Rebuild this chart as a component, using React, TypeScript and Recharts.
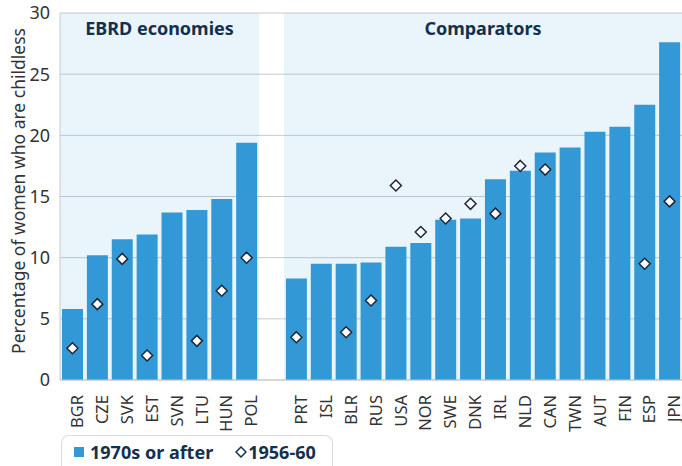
import { ComposedChart, Bar, Line, XAxis, YAxis, CartesianGrid, ReferenceArea, Legend } from 'recharts';

// Childless women by cohort, EBRD economies vs comparators
const ebrdCountries = ['BGR', 'CZE', 'SVK', 'EST', 'SVN', 'LTU', 'HUN', 'POL'];
const ebrdRecent = [5.8, 10.2, 11.5, 11.9, 13.7, 13.9, 14.8, 19.4];
const ebrdOlder: (number | null)[] = [2.6, 6.2, 9.9, 2.0, null, 3.2, 7.3, 10.0];

const compCountries = ['PRT', 'ISL', 'BLR', 'RUS', 'USA', 'NOR', 'SWE', 'DNK', 'IRL', 'NLD', 'CAN', 'TWN', 'AUT', 'FIN', 'ESP', 'JPN'];
const compRecent = [8.3, 9.5, 9.5, 9.6, 10.9, 11.2, 13.1, 13.2, 16.4, 17.1, 18.6, 19.0, 20.3, 20.7, 22.5, 27.6];
const compOlder: (number | null)[] = [3.5, null, 3.9, 6.5, 15.9, 12.1, 13.2, 14.4, 13.6, 17.5, 17.2, null, null, null, 9.5, 14.6];

const yTicks = [0, 5, 10, 15, 20, 25, 30];

const GAP = ' ';
const chartData = [
  ...ebrdCountries.map((c, i) => ({ name: c, recent: ebrdRecent[i], older: ebrdOlder[i] })),
  { name: GAP, recent: null, older: null },
  ...compCountries.map((c, i) => ({ name: c, recent: compRecent[i], older: compOlder[i] })),
];

const BLUE = '#3399d6';
const NAVY = '#13304d';
const FONT = '"Noto Sans", "Open Sans", sans-serif';

const Diamond = (props: any) => {
  const { cx, cy, value, index } = props;
  if (value == null || cx == null || cy == null) return <g key={index} />;
  const r = 5.5;
  return (
    <polygon
      key={index}
      points={`${cx},${cy - r} ${cx + r},${cy} ${cx},${cy + r} ${cx - r},${cy}`}
      fill="#fff"
      stroke="#1b2838"
      strokeWidth={1.5}
    />
  );
};

const LegendBox = () => (
  <div style={{
    display: 'flex', alignItems: 'center', border: '1px solid #dcdcdc', borderBottom: 'none',
    borderRadius: '8px 8px 0 0', padding: '4px 16px 10px 12px', fontFamily: FONT,
    fontWeight: 700, fontSize: 18, color: NAVY, background: '#fff'
  }}>
    <span style={{ width: 10, height: 10, background: BLUE, display: 'inline-block', marginRight: 6 }} />
    <span>1970s or after</span>
    <svg width={12} height={12} style={{ marginLeft: 22, marginRight: 1 }}>
      <polygon points="6,1 11,6 6,11 1,6" fill="#fff" stroke={NAVY} strokeWidth={1.5} />
    </svg>
    <span>1956-60</span>
  </div>
);

export default function App() {
  return (
    <div style={{ position: 'absolute', left: 0, top: 0, width: 682, height: 466, background: '#fff' }}>
      <ComposedChart width={682} height={466} data={chartData} barCategoryGap={2}
        margin={{ top: 13, right: 0, left: 0, bottom: 36 }}>
        <ReferenceArea x1="BGR" x2="POL" y1={0} y2={30} fill={BLUE} fillOpacity={0.1} stroke="none"
          label={{ value: 'EBRD economies', position: 'insideTop', offset: 9, fill: NAVY, fontSize: 18, fontWeight: 700, fontFamily: FONT }} />
        <ReferenceArea x1="PRT" x2="JPN" y1={0} y2={30} fill={BLUE} fillOpacity={0.1} stroke="none"
          label={{ value: 'Comparators', position: 'insideTop', offset: 9, fill: NAVY, fontSize: 18, fontWeight: 700, fontFamily: FONT }} />
        <CartesianGrid vertical={false} stroke="#c6cacd" />
        <XAxis dataKey="name" interval={0} height={50} angle={-90} textAnchor="end" tickLine={false}
          axisLine={{ stroke: '#c6cacd' }} tickMargin={9} dx={-1}
          tick={{ fontSize: 16.5, fill: '#333', fontFamily: FONT }} />
        <YAxis domain={[0, 30]} ticks={yTicks} width={60} tickLine={false} axisLine={{ stroke: '#c6cacd' }}
          tickMargin={4} tick={{ fontSize: 18, fill: '#333', fontFamily: FONT }}
          label={{
            content: () => (
              <text x={20} y={191} transform="rotate(-90 20 191)" textAnchor="middle" dominantBaseline="middle"
                fill="#333" fontSize={17.5} fontFamily={FONT}>Percentage of women who are childless</text>
            )
          }} />
        <Bar dataKey="recent" fill={BLUE} isAnimationActive={false} legendType="none" />
        <Line dataKey="older" stroke="none" strokeWidth={0} dot={Diamond} activeDot={false}
          isAnimationActive={false} legendType="none" />
        <Legend verticalAlign="middle" align="center" layout="horizontal" content={() => <LegendBox />}
          wrapperStyle={{ left: 61, top: 435, width: 'auto' }} />
      </ComposedChart>
    </div>
  );
}
